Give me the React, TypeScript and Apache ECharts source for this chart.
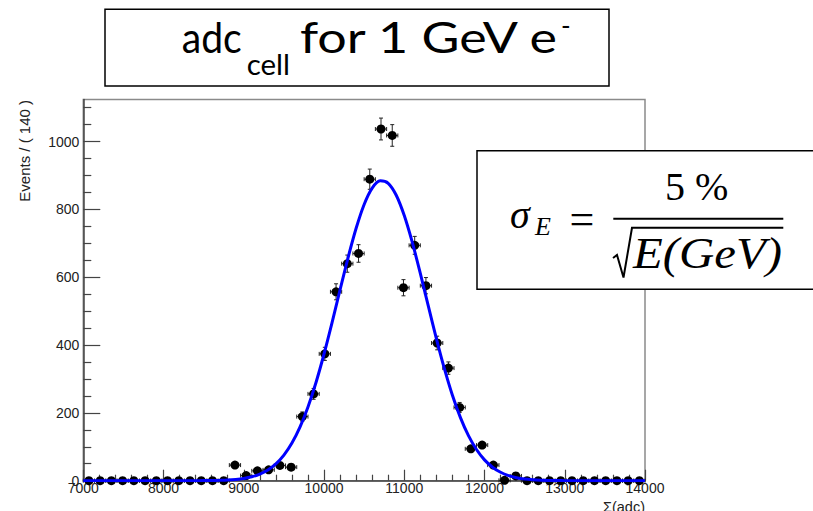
import React, { useEffect, useRef } from "react";
import * as echarts from "echarts";

// ---- data ----
const binCenters = [
  7070, 7210, 7350, 7490, 7630, 7770, 7910, 8050, 8190, 8330, 8470, 8610, 8750,
  8890, 9030, 9170, 9310, 9450, 9590, 9730, 9870, 10010, 10150, 10290, 10430,
  10570, 10710, 10850, 10990, 11130, 11270, 11410, 11550, 11690, 11830, 11970,
  12110, 12250, 12390, 12530, 12670, 12810, 12950, 13090, 13230, 13370, 13510,
  13650, 13790, 13930,
];
const binCounts = [
  0, 0, 0, 0, 0, 0, 0, 0, 0, 0, 0, 0, 0,
  46, 15, 29, 32, 45, 40, 189, 256, 374, 557, 640, 670,
  889, 1037, 1018, 569, 694, 575, 406, 332, 216, 94, 105,
  46, 1, 14, 0, 0, 0, 0, 0, 0, 0, 0,
  0, 0, 0,
];
const binHalfWidth = 70;

// fitted curve
const fitX = [
  7000, 8300, 8400, 8500, 8600, 8700, 8800, 8900, 9000, 9100, 9200, 9300, 9400,
  9500, 9600, 9700, 9800, 9900, 10000, 10100, 10200, 10300, 10400, 10500, 10600,
  10700, 10800, 10900, 11000, 11100, 11200, 11300, 11400, 11500, 11600, 11700,
  11800, 11900, 12000, 12100, 12200, 12300, 12400, 12500, 12600, 12700, 12800,
  12900, 13000, 13100, 13200, 14000,
];
const fitY = [
  0, 0.05, 0.1, 0.3, 0.5, 1.1, 2, 3.8, 6.7, 11.6, 19.5, 31.6, 49.6,
  75.4, 110.9, 157.8, 217.4, 289.7, 373.6, 466.2, 563, 658, 744.2, 814.5, 862.6,
  884.1, 876.9, 841.6, 781.7, 702.6, 611.2, 514.5, 419.1, 330.3, 251.9, 185.9,
  132.8, 91.9, 61.4, 39.8, 24.9, 15.1, 8.9, 5, 2.8, 1.5, 0.8,
  0.4, 0.2, 0.1, 0, 0,
];

const xMin = 7000;
const xMax = 14000;
const xStep = 1000;
const yMin = 0;
const yMax = 1124;
const yMajorTicks = [0, 200, 400, 600, 800, 1000];
const yMinorTicks = [50, 100, 150, 250, 300, 350, 450, 500, 550, 650, 700, 750, 850, 900, 950, 1050, 1100];

const yTitle = "Events / ( 140 )";
const xTitle = "Σ(adc)";

// ---- helpers ----
const measure = (text: string, font: string) => {
  const ctx = document.createElement("canvas").getContext("2d");
  if (!ctx) return 1;
  ctx.font = font;
  return ctx.measureText(text).width || 1;
};

const CENTRAL: Record<string, number> = {
  Lato: 0.387,
  "Liberation Serif": 0.3375,
  "Liberation Sans": 0.3465,
};

function fitText(
  text: string,
  left: number,
  baseline: number,
  size: number,
  family: string,
  targetW: number | null,
  italic = false
) {
  const font = `${italic ? "italic " : ""}${size}px "${family}"`;
  const w = measure(text, font);
  return {
    type: "text",
    x: left,
    y: baseline - CENTRAL[family] * size,
    scaleX: targetW ? targetW / w : 1,
    style: {
      text,
      fontSize: size,
      fontFamily: family,
      fontStyle: italic ? "italic" : "normal",
      fill: "#000",
      align: "left",
      verticalAlign: "middle",
    },
  };
}

export default function App() {
  const ref = useRef<HTMLDivElement>(null);

  useEffect(() => {
    if (!ref.current) return;
    const chart = echarts.init(ref.current, undefined, { renderer: "svg" });

    const points = binCenters.map((x, i) => [x, binCounts[i], Math.sqrt(binCounts[i])]);
    const fit = fitX.map((x, i) => [x, fitY[i]]);

    const axisColor = "#444";
    const labelStyle = {
      fontSize: 14,
      color: "#222",
      fontFamily: "Liberation Sans",
    };

    const option: any = {
      animation: false,
      backgroundColor: "#fff",
      grid: {
        left: 83.3,
        right: 168,
        top: 99.5,
        bottom: 30.3,
        show: true,
        borderColor: "#8a8a8a",
        borderWidth: 1.5,
        backgroundColor: "transparent",
        containLabel: false,
        outerBoundsMode: "none",
      },
      xAxis: {
        type: "value",
        min: xMin,
        max: xMax,
        interval: xStep,
        axisLine: { show: true, onZero: false, lineStyle: { color: axisColor, width: 1.5 } },
        axisTick: { show: true, inside: true, length: 11, lineStyle: { color: axisColor, width: 1.2 } },
        minorTick: { show: true, splitNumber: 5, length: 6, lineStyle: { color: axisColor, width: 1.2 } },
        axisLabel: { ...labelStyle, margin: 0, formatter: (v: number) => String(v) },
        splitLine: { show: false },
        minorSplitLine: { show: false },
      },
      yAxis: [
        {
          type: "value",
          min: yMin,
          max: yMax,
          position: "left",
          axisLine: { show: true, onZero: false, lineStyle: { color: axisColor, width: 1.5 } },
          axisTick: {
            show: true,
            inside: true,
            length: 17,
            customValues: yMajorTicks,
            lineStyle: { color: axisColor, width: 1.2 },
          },
          axisLabel: {
            ...labelStyle,
            margin: 4,
            customValues: yMajorTicks,
            formatter: (v: number) => String(v),
          },
          splitLine: { show: false },
        },
        {
          type: "value",
          min: yMin,
          max: yMax,
          position: "left",
          axisLine: { show: false },
          axisTick: {
            show: true,
            inside: true,
            length: 8,
            customValues: yMinorTicks,
            lineStyle: { color: axisColor, width: 1.2 },
          },
          axisLabel: { show: false },
          splitLine: { show: false },
        },
      ],
      series: [
        {
          type: "custom",
          name: "data",
          xAxisIndex: 0,
          yAxisIndex: 0,
          z: 3,
          data: points,
          encode: { x: 0, y: 1 },
          renderItem: (params: any, api: any) => {
            const x = api.value(0);
            const y = api.value(1);
            const e = api.value(2);
            const c = api.coord([x, y]);
            const l = api.coord([x - binHalfWidth, y]);
            const r = api.coord([x + binHalfWidth, y]);
            const st = { stroke: "#222", lineWidth: 1 };
            const cap = 2;
            const children: any[] = [
              { type: "line", shape: { x1: l[0], y1: c[1], x2: r[0], y2: c[1] }, style: st },
              { type: "line", shape: { x1: l[0], y1: c[1] - cap, x2: l[0], y2: c[1] + cap }, style: st },
              { type: "line", shape: { x1: r[0], y1: c[1] - cap, x2: r[0], y2: c[1] + cap }, style: st },
            ];
            if (e > 0) {
              const t = api.coord([x, y + e]);
              const b = api.coord([x, Math.max(y - e, 0)]);
              children.push(
                { type: "line", shape: { x1: c[0], y1: t[1], x2: c[0], y2: b[1] }, style: st },
                { type: "line", shape: { x1: c[0] - cap, y1: t[1], x2: c[0] + cap, y2: t[1] }, style: st },
                { type: "line", shape: { x1: c[0] - cap, y1: b[1], x2: c[0] + cap, y2: b[1] }, style: st }
              );
            }
            children.push({
              type: "circle",
              shape: { cx: c[0], cy: c[1], r: 4.5 },
              style: { fill: "#000" },
            });
            return { type: "group", children };
          },
        },
        {
          type: "line",
          name: "fit",
          xAxisIndex: 0,
          yAxisIndex: 0,
          z: 4,
          data: fit,
          showSymbol: false,
          symbol: "none",
          smooth: 0.3,
          lineStyle: { color: "#0000ff", width: 3 },
        },
      ],
      graphic: [
        // axis titles
        {
          type: "text",
          x: 24,
          y: 100,
          rotation: Math.PI / 2,
          style: {
            text: yTitle,
            fontSize: 15,
            fontFamily: "Liberation Sans",
            fill: "#222",
            align: "right",
            verticalAlign: "middle",
          },
        },
        {
          type: "text",
          x: 645,
          y: 499,
          style: {
            text: xTitle,
            fontSize: 14.5,
            fontFamily: "Liberation Sans",
            fill: "#222",
            align: "right",
            verticalAlign: "top",
          },
        },
        // title box
        {
          type: "group",
          z: 100,
          children: [
            {
              type: "rect",
              shape: { x: 105, y: 9.3, width: 504, height: 76.7 },
              style: { fill: "#fff", stroke: "#000", lineWidth: 1.5 },
            },
            fitText("adc", 181.7, 53.3, 42, "Lato", 60),
            fitText("cell", 246.7, 75, 29, "Lato", 43.3),
            fitText("for 1 GeV e", 300, 53.3, 42, "Lato", 260),
            {
              type: "text",
              x: 561,
              y: 24.7,
              style: {
                text: "-",
                fontSize: 26,
                fontFamily: "Lato",
                fill: "#000",
                align: "left",
                verticalAlign: "middle",
              },
            },
          ],
        },
        // formula box
        {
          type: "group",
          z: 100,
          children: [
            {
              type: "rect",
              shape: { x: 477, y: 150.7, width: 345, height: 138.5 },
              style: { fill: "#fff", stroke: "#000", lineWidth: 1.5 },
            },
            fitText("σ", 510, 228, 40, "Liberation Serif", null, true),
            fitText("E", 535, 235, 26, "Liberation Serif", null, true),
            {
              type: "text",
              x: 582,
              y: 219,
              style: {
                text: "=",
                fontSize: 44,
                fontFamily: "Liberation Serif",
                fill: "#000",
                align: "center",
                verticalAlign: "middle",
              },
            },
            {
              type: "line",
              shape: { x1: 613.3, y1: 218.8, x2: 783.3, y2: 218.8 },
              style: { stroke: "#000", lineWidth: 2 },
            },
            {
              type: "text",
              x: 696.7,
              y: 200 - 0.3375 * 40,
              style: {
                text: "5 %",
                fontSize: 40,
                fontFamily: "Liberation Serif",
                fill: "#000",
                align: "center",
                verticalAlign: "middle",
              },
            },
            {
              type: "polyline",
              shape: {
                points: [
                  [613, 258],
                  [617, 255],
                  [623.5, 277.5],
                  [632, 227.8],
                  [783.3, 227.8],
                ],
              },
              style: { stroke: "#000", lineWidth: 2, fill: null, lineJoin: "miter" },
            },
            fitText("E(GeV)", 633, 268, 44, "Liberation Serif", 149, true),
          ],
        },
      ],
    };

    chart.setOption(option);
    return () => chart.dispose();
  }, []);

  return (
    <div
      ref={ref}
      style={{ position: "fixed", left: 0, top: 0, width: 813, height: 511, background: "#fff" }}
    />
  );
}
